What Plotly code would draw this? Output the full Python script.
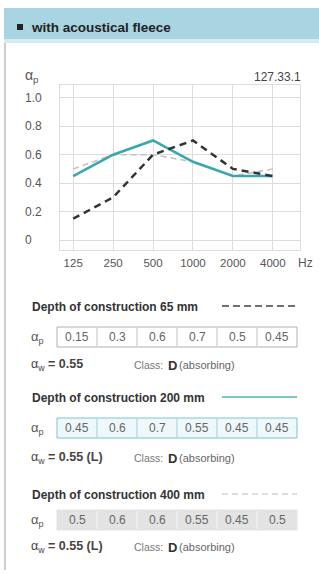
import plotly.graph_objects as go

# ---------------- data ----------------
freqs = ["125", "250", "500", "1000", "2000", "4000"]
alpha_65 = [0.15, 0.3, 0.6, 0.7, 0.5, 0.45]
alpha_200 = [0.45, 0.6, 0.7, 0.55, 0.45, 0.45]
alpha_400 = [0.5, 0.6, 0.6, 0.55, 0.45, 0.5]
depths = ["65", "200", "400"]
alpha_w = ["0.55", "0.55 (L)", "0.55 (L)"]
classes = ["D", "D", "D"]
class_desc = ["absorbing", "absorbing", "absorbing"]
y_tick_vals = [0, 0.2, 0.4, 0.6, 0.8, 1.0]
y_tick_text = ["0", "0.2", "0.4", "0.6", "0.8", "1.0"]
code_label = "127.33.1"
header_text = "with acoustical fleece"

W, H = 319, 575
FONT = "Liberation Sans, Arial, sans-serif"
TEAL = "#3aa6b0"
DARK = "#333333"
LIGHT = "#c4c4c4"
GRAY_TXT = "#555555"


def px(x):
    return x / W


def py(y):
    return 1 - y / H


fig = go.Figure()

series = [
    (alpha_400, dict(color=LIGHT, width=1.6, dash="6px,4px")),
    (alpha_200, dict(color=TEAL, width=2.6)),
    (alpha_65, dict(color=DARK, width=2.5, dash="7px,5px")),
]
for vals, line in series:
    fig.add_trace(go.Scatter(x=freqs, y=vals, mode="lines", line=line,
                             hoverinfo="skip", showlegend=False))

shapes = []
annotations = []

# header band
shapes.append(dict(type="rect", xref="paper", yref="paper", x0=px(4), x1=px(319),
                   y0=py(41), y1=py(8), fillcolor="#a9d4e1", line=dict(width=0), layer="below"))
shapes.append(dict(type="rect", xref="paper", yref="paper", x0=px(4), x1=px(319),
                   y0=py(43), y1=py(39), fillcolor="#d6ebf1", line=dict(width=0), layer="below"))
shapes.append(dict(type="rect", xref="paper", yref="paper", x0=px(17), x1=px(23),
                   y0=py(30), y1=py(24), fillcolor="#222222", line=dict(width=0)))
annotations.append(dict(xref="paper", yref="paper", x=px(29), y=py(27), text="<b>" + header_text + "</b>",
                        showarrow=False, xanchor="left", yanchor="middle",
                        font=dict(family=FONT, size=13.5, color="#222222")))
# left border of panel
shapes.append(dict(type="line", xref="paper", yref="paper", x0=px(5), x1=px(5),
                   y0=py(43), y1=py(570), line=dict(color="#cfcfcf", width=2)))

# chart labels
annotations.append(dict(xref="paper", yref="paper", x=px(23), y=py(76), text="α<sub>p</sub>",
                        showarrow=False, xanchor="left", yanchor="middle",
                        font=dict(family=FONT, size=14, color=GRAY_TXT)))
annotations.append(dict(xref="paper", yref="paper", x=px(303), y=py(77), text=code_label,
                        showarrow=False, xanchor="right", yanchor="middle",
                        font=dict(family=FONT, size=12, color="#444444")))
annotations.append(dict(xref="paper", yref="paper", x=px(314), y=py(263), text="Hz",
                        showarrow=False, xanchor="right", yanchor="middle", borderpad=0,
                        font=dict(family=FONT, size=12, color=GRAY_TXT)))
for v, t in zip(y_tick_vals, y_tick_text):
    annotations.append(dict(xref="paper", yref="y", x=px(23), y=v, text=t,
                            showarrow=False, xanchor="left", yanchor="middle",
                            font=dict(family=FONT, size=12, color=GRAY_TXT)))

# tables
sections = [
    dict(title_y=307, row=(327, 347), w_y=365, vals=alpha_65,
         line=dict(color="#444444", width=1.3, dash="7px,4px"), fill="#ffffff",
         border="#b0b0b0", div="#c0c0c0"),
    dict(title_y=398, row=(418, 438), w_y=458, vals=alpha_200,
         line=dict(color="#7cc5cc", width=2), fill="#eef8fa",
         border="#7cc5cc", div="#9dd3d9"),
    dict(title_y=495, row=(510, 530), w_y=547, vals=alpha_400,
         line=dict(color="#bdbdbd", width=1.2, dash="6px,4px"), fill="#e3e3e3",
         border="#e3e3e3", div="#f4f4f4"),
]
cell_x0, cell_w = 57, 40
for i, s in enumerate(sections):
    ty = s["title_y"]
    annotations.append(dict(xref="paper", yref="paper", x=px(30), y=py(ty),
                            text="<b>Depth of construction " + depths[i] + " mm</b>",
                            showarrow=False, xanchor="left", yanchor="middle",
                            font=dict(family=FONT, size=12, color="#333333")))
    shapes.append(dict(type="line", xref="paper", yref="paper", x0=px(222), x1=px(297),
                       y0=py(ty - 1), y1=py(ty - 1), line=s["line"]))
    r0, r1 = s["row"]
    shapes.append(dict(type="rect", xref="paper", yref="paper", x0=px(cell_x0),
                       x1=px(cell_x0 + 6 * cell_w), y0=py(r1), y1=py(r0),
                       fillcolor=s["fill"], line=dict(color=s["border"], width=1)))
    for k in range(1, 6):
        xx = cell_x0 + k * cell_w
        shapes.append(dict(type="line", xref="paper", yref="paper", x0=px(xx), x1=px(xx),
                           y0=py(r1 - 1), y1=py(r0 + 1), line=dict(color=s["div"], width=1)))
    annotations.append(dict(xref="paper", yref="paper", x=px(29), y=py((r0 + r1) / 2),
                            text="α<sub>p</sub>", showarrow=False, xanchor="left", yanchor="middle",
                            font=dict(family=FONT, size=13, color=GRAY_TXT)))
    for k, v in enumerate(s["vals"]):
        annotations.append(dict(xref="paper", yref="paper", x=px(cell_x0 + k * cell_w + cell_w / 2),
                                y=py((r0 + r1) / 2), text=f"{v:g}", showarrow=False,
                                xanchor="center", yanchor="middle",
                                font=dict(family=FONT, size=12, color="#666666")))
    wy = s["w_y"]
    annotations.append(dict(xref="paper", yref="paper", x=px(29), y=py(wy),
                            text="α<sub>w</sub> <b>= " + alpha_w[i] + "</b>", showarrow=False,
                            xanchor="left", yanchor="middle",
                            font=dict(family=FONT, size=12.5, color="#444444")))
    annotations.append(dict(xref="paper", yref="paper", x=px(132), y=py(wy),
                            text="Class:", showarrow=False, xanchor="left", yanchor="middle",
                            font=dict(family=FONT, size=10.5, color="#777777")))
    annotations.append(dict(xref="paper", yref="paper", x=px(166), y=py(wy),
                            text="<b>" + classes[i] + "</b>", showarrow=False,
                            xanchor="left", yanchor="middle",
                            font=dict(family=FONT, size=13, color="#333333")))
    annotations.append(dict(xref="paper", yref="paper", x=px(177), y=py(wy),
                            text="(" + class_desc[i] + ")", showarrow=False,
                            xanchor="left", yanchor="middle",
                            font=dict(family=FONT, size=11, color="#666666")))

fig.update_layout(
    width=W, height=H,
    margin=dict(l=0, r=0, t=0, b=0),
    paper_bgcolor="white", plot_bgcolor="white",
    shapes=shapes, annotations=annotations,
    xaxis=dict(domain=[px(60), px(300)], type="category", range=[-0.33, 5.68],
               showgrid=True, gridcolor="#dddddd", gridwidth=1,
               showline=True, linecolor="#dddddd", mirror=True,
               ticks="", ticklabelstandoff=2,
               tickfont=dict(family=FONT, size=11.5, color=GRAY_TXT), zeroline=False,
               fixedrange=True),
    yaxis=dict(domain=[py(250), py(85)], range=[-0.07, 1.09],
               tickvals=y_tick_vals, showticklabels=False,
               showgrid=True, gridcolor="#dddddd", gridwidth=1,
               showline=True, linecolor="#dddddd", mirror=True, zeroline=False,
               fixedrange=True),
)

fig.write_html("out.html", config={"displayModeBar": False},
               post_script="document.body.style.margin='0';document.body.style.overflow='hidden';")
